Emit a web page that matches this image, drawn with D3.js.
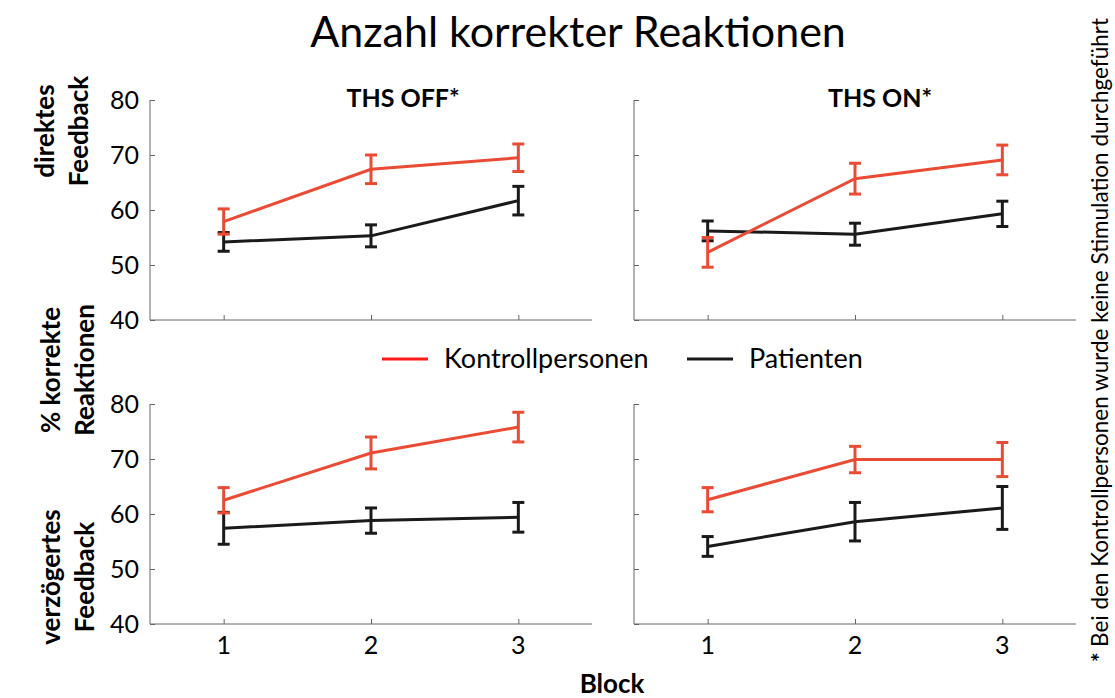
<!DOCTYPE html>
<html>
<head>
<meta charset="utf-8">
<script src="https://cdn.jsdelivr.net/npm/d3@7"></script>
<style>
  body { margin: 0; background: #fff; }
  svg { display: block; font-family: Lato, "Open Sans", sans-serif; }
</style>
</head>
<body>
<svg id="chart" width="1115" height="698"></svg>
<script>
// Data (mean % correct, error = half bar length)
const blocks = [1, 2, 3];
const yTicks = [40, 50, 60, 70, 80];

const kontrollOffDirekt = [57.9, 67.4, 69.5];
const kontrollOffDirektErr = [2.3, 2.6, 2.5];
const patientenOffDirekt = [54.2, 55.3, 61.7];
const patientenOffDirektErr = [1.7, 2.0, 2.6];

const kontrollOnDirekt = [52.3, 65.7, 69.1];
const kontrollOnDirektErr = [2.7, 2.8, 2.7];
const patientenOnDirekt = [56.2, 55.6, 59.3];
const patientenOnDirektErr = [1.8, 2.0, 2.3];

const kontrollOffVerz = [62.5, 71.1, 75.8];
const kontrollOffVerzErr = [2.3, 2.9, 2.7];
const patientenOffVerz = [57.4, 58.8, 59.4];
const patientenOffVerzErr = [2.9, 2.3, 2.7];

const kontrollOnVerz = [62.6, 69.9, 69.9];
const kontrollOnVerzErr = [2.2, 2.4, 3.1];
const patientenOnVerz = [54.1, 58.6, 61.1];
const patientenOnVerzErr = [1.8, 3.5, 3.9];

const RED = "#ea4b34";
const BLACK = "#1a1a1a";
const AXIS = "#666";

const panels = [
  { x0: 150, top: 100, title: "THS OFF*", titleX: 253, xLabels: false,
    k: kontrollOffDirekt, kErr: kontrollOffDirektErr, p: patientenOffDirekt, pErr: patientenOffDirektErr, yLabels: true },
  { x0: 634, top: 100, title: "THS ON*", titleX: 246, xLabels: false,
    k: kontrollOnDirekt, kErr: kontrollOnDirektErr, p: patientenOnDirekt, pErr: patientenOnDirektErr, yLabels: false },
  { x0: 150, top: 404, title: null, xLabels: true,
    k: kontrollOffVerz, kErr: kontrollOffVerzErr, p: patientenOffVerz, pErr: patientenOffVerzErr, yLabels: true },
  { x0: 634, top: 404, title: null, xLabels: true,
    k: kontrollOnVerz, kErr: kontrollOnVerzErr, p: patientenOnVerz, pErr: patientenOnVerzErr, yLabels: false }
];

const svg = d3.select("#chart");
const panelW = 442, panelH = 220;

svg.append("text")
  .attr("x", 578).attr("y", 47)
  .attr("text-anchor", "middle")
  .style("font-size", "43px")
  .text("Anzahl korrekter Reaktionen");

panels.forEach(function (pn) {
  const x = d3.scaleLinear().domain([0.5, 3.5]).range([0, panelW]);
  const y = d3.scaleLinear().domain([40, 80]).range([panelH, 0]);
  const g = svg.append("g").attr("transform", "translate(" + pn.x0 + "," + pn.top + ")");

  // y axis, ticks pointing inward
  const ya = g.append("g").call(d3.axisRight(y).tickValues(yTicks).tickSize(5).tickFormat(""));
  ya.select(".domain").attr("stroke", AXIS).attr("d", "M0,0V" + panelH);
  ya.selectAll(".tick line").attr("stroke", AXIS);
  if (pn.yLabels) {
    g.append("g").selectAll("text").data(yTicks).enter().append("text")
      .attr("x", -11).attr("y", function (d) { return y(d) + 9; })
      .attr("text-anchor", "end")
      .style("font-size", "25px")
      .text(function (d) { return d; });
  }

  // x axis, ticks pointing inward
  const xa = g.append("g").attr("transform", "translate(0," + panelH + ")")
    .call(d3.axisTop(x).tickValues(blocks).tickSize(5).tickFormat(""));
  xa.select(".domain").attr("stroke", AXIS).attr("d", "M0,0H" + panelW);
  xa.selectAll(".tick line").attr("stroke", AXIS);
  if (pn.xLabels) {
    g.append("g").selectAll("text").data(blocks).enter().append("text")
      .attr("x", function (d) { return x(d); })
      .attr("y", panelH + 30)
      .attr("text-anchor", "middle")
      .style("font-size", "25px")
      .text(function (d) { return d; });
  }

  if (pn.title) {
    g.append("text")
      .attr("x", pn.titleX).attr("y", 7)
      .attr("text-anchor", "middle")
      .style("font-size", "25px").style("font-weight", "bold")
      .text(pn.title);
  }

  const line = d3.line().x(function (d, i) { return x(blocks[i]); }).y(function (d) { return y(d); });
  [[pn.p, pn.pErr, BLACK], [pn.k, pn.kErr, RED]].forEach(function (s) {
    const vals = s[0], errs = s[1], col = s[2];
    g.append("path").datum(vals)
      .attr("d", line).attr("fill", "none")
      .attr("stroke", col).attr("stroke-width", 3);
    const eb = g.append("g").selectAll("g").data(vals).enter().append("g");
    eb.append("line")
      .attr("x1", function (d, i) { return x(blocks[i]); })
      .attr("x2", function (d, i) { return x(blocks[i]); })
      .attr("y1", function (d, i) { return y(d + errs[i]); })
      .attr("y2", function (d, i) { return y(d - errs[i]); })
      .attr("stroke", col).attr("stroke-width", 3);
    [1, -1].forEach(function (sgn) {
      eb.append("line")
        .attr("x1", function (d, i) { return x(blocks[i]) - 6; })
        .attr("x2", function (d, i) { return x(blocks[i]) + 6; })
        .attr("y1", function (d, i) { return y(d + sgn * errs[i]); })
        .attr("y2", function (d, i) { return y(d + sgn * errs[i]); })
        .attr("stroke", col).attr("stroke-width", 3);
    });
  });
});

// row labels
function rotLabel(lines, cx, cy) {
  const t = svg.append("text")
    .attr("transform", "translate(" + cx + "," + cy + ") rotate(-90)")
    .attr("text-anchor", "middle")
    .style("font-size", "26px").style("font-weight", "bold");
  lines.forEach(function (l, i) {
    t.append("tspan").attr("x", 0).attr("dy", i === 0 ? 0 : 34).text(l);
  });
}
rotLabel(["direktes", "Feedback"], 54, 131);
rotLabel(["% korrekte", "Reaktionen"], 60, 370);
rotLabel(["verzögertes", "Feedback"], 60, 577);

// legend
const legend = [["Kontrollpersonen", "#ff1a1a", 382], ["Patienten", BLACK, 687]];
legend.forEach(function (l) {
  svg.append("line").attr("x1", l[2]).attr("x2", l[2] + 46)
    .attr("y1", 359).attr("y2", 359)
    .attr("stroke", l[1]).attr("stroke-width", 3);
  svg.append("text").attr("x", l[2] + 62).attr("y", 368)
    .style("font-size", "27px").text(l[0]);
});

svg.append("text").attr("x", 612).attr("y", 693)
  .attr("text-anchor", "middle")
  .style("font-size", "26px").style("font-weight", "bold")
  .text("Block");

const note = svg.append("text")
  .attr("transform", "translate(1108,662) rotate(-90)")
  .style("font-size", "22.5px");
note.append("tspan").style("font-weight", "bold").text("* ");
note.append("tspan").text("Bei den Kontrollpersonen wurde keine Stimulation durchgeführt");
</script>
</body>
</html>
